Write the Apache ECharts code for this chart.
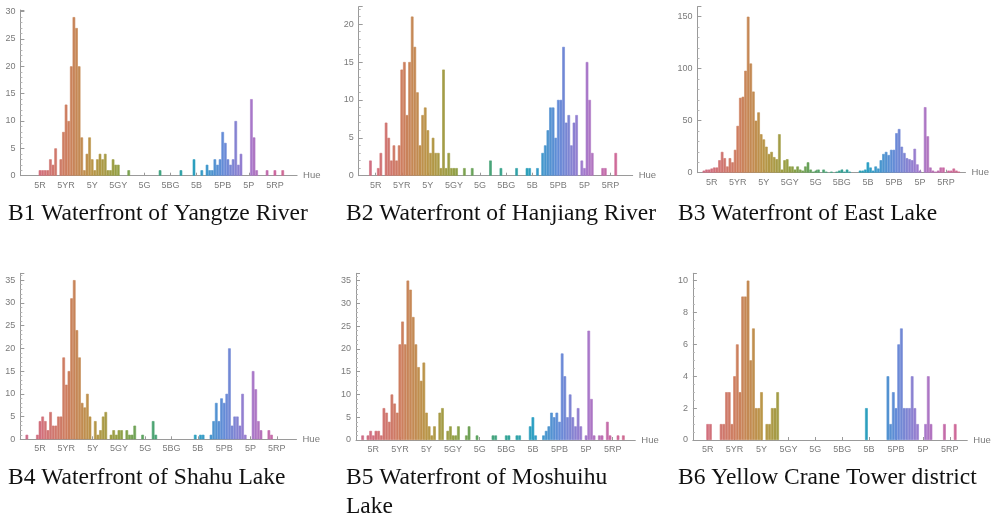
<!DOCTYPE html>
<html><head><meta charset="utf-8">
<script src="https://cdn.jsdelivr.net/npm/echarts@6/dist/echarts.min.js"></script>
<style>html,body{margin:0;padding:0;background:#fff;}#c{width:993px;height:517px;}</style>
</head><body><div id="c"></div>
<script>
// Hue bins (Munsell hue units), first bin = -2, last bin = 103
const HUE_START = -2;
const HUE_TICKS = [5, 15, 25, 35, 45, 55, 65, 75, 85, 95];
const HUE_TICK_LABELS = ['5R', '5YR', '5Y', '5GY', '5G', '5BG', '5B', '5PB', '5P', '5RP'];

// counts per hue bin, hues -2..103
const B1_COUNTS = [0,0,
  0,0,0,0,0,1,1,1,1,3,
  2,5,0,3,8,13,10,20,29,27,
  20,7,1,4,7,3,1,3,4,3,
  4,1,1,3,2,2,0,0,0,1,
  0,0,0,0,0,0,0,0,0,0,
  0,1,0,0,0,0,0,0,0,1,
  0,0,0,0,3,0,0,1,0,2,
  1,1,3,2,3,8,6,3,2,3,
  10,2,4,0,0,0,14,7,1,0,
  0,0,1,0,0,1,0,0,1,0,
  0,0,0,0];
const B2_COUNTS = [0,0,
  0,0,0,2,0,0,1,3,0,7,
  5,2,4,2,4,14,15,8,15,21,
  17,11,4,8,9,6,3,5,3,3,
  1,14,1,3,1,1,1,0,0,1,
  0,0,1,0,0,0,0,0,0,2,
  0,0,0,1,0,0,0,0,0,1,
  0,0,0,1,1,0,0,1,0,3,
  4,6,9,9,5,10,10,17,7,8,
  4,7,8,0,2,1,15,10,3,0,
  0,0,1,1,0,0,0,3,0,0,
  0,0,0,0];
const B3_COUNTS = [0,0,
  0,0,2,3,3,4,5,5,12,20,
  14,6,14,10,22,45,72,73,98,150,
  105,78,50,58,37,32,25,18,20,15,
  13,37,3,12,13,6,6,3,6,3,
  2,6,10,3,1,2,3,0,3,1,
  0,1,0,1,2,3,1,3,1,0,
  0,0,2,2,3,10,5,2,6,4,
  12,18,20,17,22,22,38,42,25,19,
  14,13,12,23,8,2,0,63,35,5,
  2,1,2,5,5,0,2,2,4,2,
  1,0,0,0];
const B4_COUNTS = [0,0,
  1,0,0,0,1,4,5,4,2,6,
  3,3,5,5,18,12,15,31,35,24,
  18,8,7,10,5,0,4,1,2,5,
  6,0,1,2,1,2,2,0,2,1,
  1,3,0,0,1,0,0,0,4,1,
  0,0,0,0,0,0,0,0,0,0,
  0,0,0,0,1,0,1,1,0,0,
  1,4,8,4,9,8,10,20,3,5,
  5,3,10,1,0,0,15,11,4,2,
  0,0,2,1,0,0,0,0,0,0,
  0,0,0,0];
const B5_COUNTS = [0,0,
  0,1,0,1,2,1,2,2,1,7,
  6,4,10,8,6,21,26,21,35,33,
  27,21,16,13,17,6,3,1,3,0,
  6,7,0,2,3,1,1,3,0,0,
  1,3,0,0,1,0,0,0,0,0,
  1,1,0,0,0,1,1,0,0,1,
  1,0,0,0,3,5,1,0,0,1,
  2,3,6,5,6,4,19,14,5,10,
  5,3,7,3,0,1,24,9,1,0,
  1,1,0,4,1,0,0,1,0,1,
  0,0,0,0];
const B6_COUNTS = [0,0,
  0,0,0,0,0,1,1,0,0,0,
  1,1,3,3,1,4,6,3,9,9,
  10,5,7,2,2,3,0,1,1,2,
  2,3,0,0,0,0,0,0,0,0,
  0,0,0,0,0,0,0,0,0,0,
  0,0,0,0,0,0,0,0,0,0,
  0,0,0,0,2,0,0,0,0,0,
  0,0,4,1,3,2,6,7,2,2,
  2,4,2,1,0,0,1,4,1,0,
  0,0,0,1,0,0,0,1,0,0,
  0,0,0,0];

const PANEL_COUNTS = [B1_COUNTS, B2_COUNTS, B3_COUNTS, B4_COUNTS, B5_COUNTS, B6_COUNTS];
const CAPTIONS = ['B1 Waterfront of Yangtze River', 'B2 Waterfront of Hanjiang River', 'B3 Waterfront of East Lake',
  'B4 Waterfront of Shahu Lake', 'B5 Waterfront of Moshuihu\nLake', 'B6 Yellow Crane Tower district'];
const Y_INTERVALS = [5, 5, 50, 5, 5, 2];
const Y_MAXES = [30.3, 22.3, 159.6, 36.5, 36.6, 10.46];
const X_AXIS_NAME = 'Hue';

// ---- layout / style (not data) ----
const LAYOUT = [
  {left: 20.4, width: 276.7, top: 10,    height: 165.7, hMin: -2, hMax: 103},
  {left: 358.7, width: 274,  top: 6.7,   height: 169,   hMin: -1, hMax: 103},
  {left: 697.4, width: 268.1, top: 6.7,  height: 166,   hMin: 0,  hMax: 102},
  {left: 20.3, width: 276.2, top: 273.3, height: 166,   hMin: -2, hMax: 102},
  {left: 356,  width: 279.3, top: 273.3, height: 166.7, hMin: -1, hMax: 103},
  {left: 692.9, width: 274.4, top: 273.3, height: 166.7, hMin: 0, hMax: 101}
];
const CAPTION_POS = [[8, 199], [346, 199], [678, 199], [8, 463], [346, 463], [678, 463]];
const MINOR_SPLIT = [5, 5, 5, 5, 5, 4];

const COLOR_STOPS = [
  [-5, [200, 104, 150]],
  [5, [210, 112, 125]],
  [15, [206, 126, 96]],
  [25, [186, 150, 72]],
  [35, [148, 160, 68]],
  [45, [88, 164, 100]],
  [55, [52, 164, 150]],
  [65, [44, 160, 196]],
  [75, [100, 140, 215]],
  [85, [165, 122, 205]],
  [95, [205, 104, 160]],
  [105, [210, 112, 125]]
];
function hueColor(h) {
  for (let i = 0; i < COLOR_STOPS.length - 1; i++) {
    const a = COLOR_STOPS[i], b = COLOR_STOPS[i + 1];
    if (h >= a[0] && h <= b[0]) {
      const t = (h - a[0]) / (b[0] - a[0]);
      const c = a[1].map((v, k) => Math.round(v + (b[1][k] - v) * t));
      return 'rgb(' + c.join(',') + ')';
    }
  }
  return '#999';
}

const AXIS_GRAY = '#9a9a9a';
const LABEL_GRAY = '#7a7a7a';
const FONT = '"Liberation Sans", Arial, sans-serif';

const grids = [], xAxes = [], yAxes = [], series = [], graphics = [];
LAYOUT.forEach((L, i) => {
  const hues = [], items = [];
  for (let h = L.hMin; h <= L.hMax; h++) {
    hues.push(String(h));
    const v = PANEL_COUNTS[i][h - HUE_START];
    const col = hueColor(h);
    items.push({value: v, itemStyle: {color: col, borderColor: v > 0 ? col : 'rgba(0,0,0,0)', borderWidth: v > 0 ? 0.6 : 0}});
  }
  grids.push({left: L.left, top: L.top, width: L.width, height: L.height, containLabel: false});
  const isTick = (idx, val) => HUE_TICKS.indexOf(Number(val)) >= 0;
  xAxes.push({
    type: 'category', gridIndex: i, data: hues, boundaryGap: true,
    name: X_AXIS_NAME, nameLocation: 'end', nameGap: 6,
    nameTextStyle: {color: LABEL_GRAY, fontSize: 9.5, fontFamily: FONT, verticalAlign: 'middle'},
    axisLine: {lineStyle: {color: AXIS_GRAY, width: 1}},
    axisTick: {show: true, inside: true, length: 3, alignWithLabel: true, interval: isTick, lineStyle: {color: AXIS_GRAY}},
    axisLabel: {interval: isTick, color: LABEL_GRAY, fontSize: 9, fontFamily: FONT, margin: 5,
      formatter: v => HUE_TICK_LABELS[HUE_TICKS.indexOf(Number(v))] || ''},
    splitLine: {show: false}
  });
  yAxes.push({
    type: 'value', gridIndex: i, min: 0, max: Y_MAXES[i], interval: Y_INTERVALS[i],
    axisLine: {show: true, lineStyle: {color: AXIS_GRAY, width: 1}},
    axisTick: {show: true, inside: true, length: 4, lineStyle: {color: AXIS_GRAY}},
    minorTick: {show: true, splitNumber: MINOR_SPLIT[i], length: 2, lineStyle: {color: '#b5b5b5'}},
    axisLabel: {color: LABEL_GRAY, fontSize: 9, fontFamily: FONT, margin: 5, showMaxLabel: false},
    splitLine: {show: false}
  });
  series.push({
    type: 'bar', xAxisIndex: i, yAxisIndex: i, data: items,
    barCategoryGap: '0%', barGap: '0%', animation: false
  });
  graphics.push({
    type: 'text', left: CAPTION_POS[i][0], top: CAPTION_POS[i][1],
    style: {text: CAPTIONS[i], fill: '#111', font: '23.5px "Liberation Serif", "Times New Roman", serif', lineHeight: 29}
  });
});

const chart = echarts.init(document.getElementById('c'), null, {renderer: 'canvas'});
chart.setOption({
  animation: false,
  backgroundColor: '#ffffff',
  grid: grids, xAxis: xAxes, yAxis: yAxes, series: series, graphic: graphics
});
</script></body></html>
